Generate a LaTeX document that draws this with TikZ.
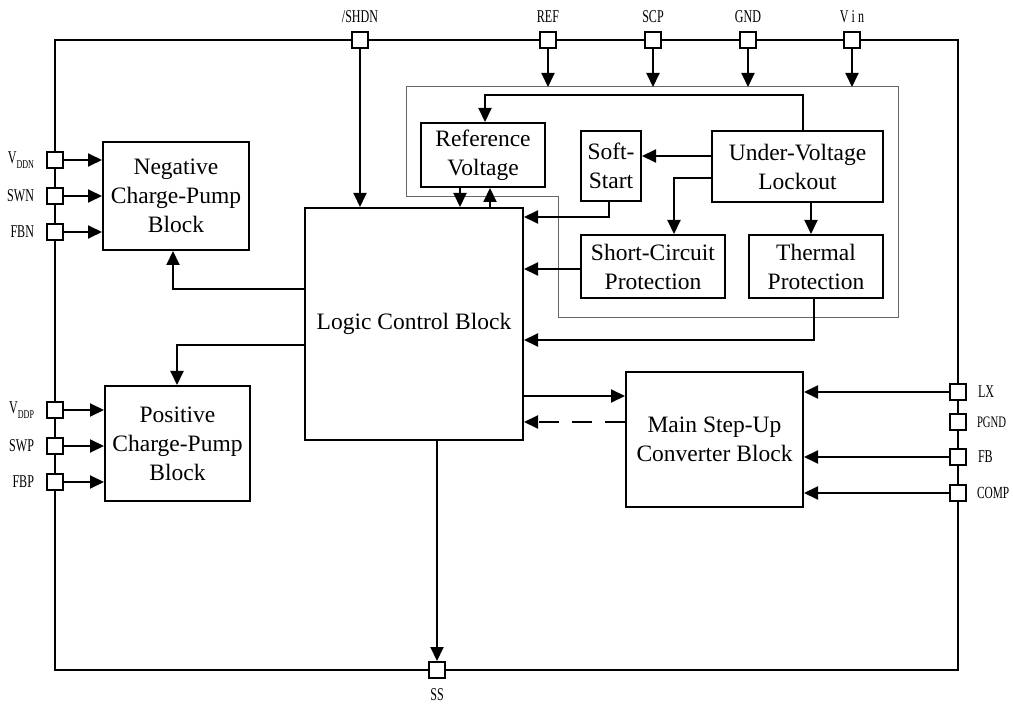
\documentclass[tikz,border=0pt]{standalone}
\usepackage{fontspec}
\setmainfont{Liberation Serif}
\newfontfamily\pinfont[FakeStretch=0.67]{Liberation Serif}
\usetikzlibrary{arrows.meta}
\begin{document}
\begin{tikzpicture}[x=1pt,y=-1pt,
 line width=2pt,
 blk/.style={draw, line width=2pt, inner sep=0pt, font=\fontsize{23.5}{29}\selectfont, align=center},
 pin/.style={draw, fill=white, line width=2pt, minimum size=16pt, inner sep=0pt},
 lbl/.style={font=\pinfont\fontsize{18}{18}\selectfont, inner sep=0pt},
 arr/.style={-{Triangle[length=14pt,width=13pt]}, line width=2pt},
 grayline/.style={draw=black!60, line width=1pt},
]
\useasboundingbox (0,0) rectangle (1013,708);
% outer frame
\draw (55,40) rectangle (958,670);
% inner gray region
\coordinate (g1) at (406,87);
\coordinate (g2) at (898,87);
\coordinate (g3) at (898,318);
\coordinate (g4) at (558,318);
\coordinate (g5) at (558,197);
\coordinate (g6) at (406,197);
\draw[grayline] (g1) -- (g2) -- (g3) -- (g4) -- (g5) -- (g6) -- cycle;
% blocks
\node[blk, minimum width=146pt, minimum height=108pt] (neg) at (176,196) {Negative\\Charge-Pump\\Block};
\node[blk, minimum width=145pt, minimum height=115pt] (pos) at (177.5,443.5) {Positive\\Charge-Pump\\Block};
\node[blk, minimum width=218pt, minimum height=232pt] (logic) at (414,324) {Logic Control Block};
\node[blk, minimum width=177pt, minimum height=135pt] (main) at (714.5,439.5) {Main Step-Up\\Converter Block};
\node[blk, minimum width=124pt, minimum height=64pt] (refv) at (483,155) {Reference\\Voltage};
\node[blk, minimum width=60pt, minimum height=70pt] (soft) at (611,166) {Soft-\\Start};
\node[blk, minimum width=171pt, minimum height=71pt] (uvlo) at (797.5,166.5) {Under-Voltage\\Lockout};
\node[blk, minimum width=144pt, minimum height=63pt] (short) at (653,266.5) {Short-Circuit\\Protection};
\node[blk, minimum width=134pt, minimum height=63pt] (therm) at (816,266.5) {Thermal\\Protection};
% pins
\node[pin] (shdn) at (360,40) {};
\node[pin] (refp) at (548,40) {};
\node[pin] (scp) at (653,40) {};
\node[pin] (gnd) at (748,40) {};
\node[pin] (vin) at (852,40) {};
\node[pin] (vddn) at (55,160) {};
\node[pin] (swn) at (55,196) {};
\node[pin] (fbn) at (55,232) {};
\node[pin] (vddp) at (55,410) {};
\node[pin] (swp) at (55,446) {};
\node[pin] (fbp) at (55,482) {};
\node[pin] (lx) at (958,392) {};
\node[pin] (pgnd) at (958,422) {};
\node[pin] (fb) at (958,457) {};
\node[pin] (comp) at (958,493) {};
\node[pin] (ss) at (437,670) {};
% pin labels
\node[lbl, anchor=south] (lshdn) at ([yshift=7pt]shdn.north) {/SHDN};
\node[lbl, anchor=south] (lref) at ([yshift=7pt]refp.north) {REF};
\node[lbl, anchor=south] (lscp) at ([yshift=7pt]scp.north) {SCP};
\node[lbl, anchor=south] (lgnd) at ([yshift=7pt]gnd.north) {GND};
\node[lbl, anchor=south] (lvin) at ([yshift=7pt]vin.north) {V\,i\,n};
\node[lbl, anchor=east] (lvddn) at ([xshift=-11pt]vddn.west) {V\raisebox{-5pt}{\fontsize{12}{12}\selectfont DDN}};
\node[lbl, anchor=east] (lswn) at ([xshift=-11pt]swn.west) {SWN};
\node[lbl, anchor=east] (lfbn) at ([xshift=-11pt]fbn.west) {FBN};
\node[lbl, anchor=east] (lvddp) at ([xshift=-11pt]vddp.west) {V\raisebox{-5pt}{\fontsize{12}{12}\selectfont DDP}};
\node[lbl, anchor=east] (lswp) at ([xshift=-11pt]swp.west) {SWP};
\node[lbl, anchor=east] (lfbp) at ([xshift=-11pt]fbp.west) {FBP};
\node[lbl, anchor=west] (llx) at ([xshift=10pt]lx.east) {LX};
\node[lbl, anchor=west, font=\pinfont\fontsize{16}{16}\selectfont] (lpgnd) at ([xshift=9pt]pgnd.east) {PGND};
\node[lbl, anchor=west] (lfb) at ([xshift=10pt]fb.east) {FB};
\node[lbl, anchor=west, font=\pinfont\fontsize{17}{17}\selectfont] (lcomp) at ([xshift=9pt]comp.east) {COMP};
\node[lbl, anchor=north] (lss) at ([yshift=-9pt]ss.south) {SS};
% top pin arrows
\draw[arr] (shdn) -- (shdn |- logic.north);
\draw[arr] (refp) -- (refp |- g1);
\draw[arr] (scp) -- (scp |- g1);
\draw[arr] (gnd) -- (gnd |- g1);
\draw[arr] (vin) -- (vin |- g1);
% left pins
\draw[arr] (vddn) -- (vddn -| neg.west);
\draw[arr] (swn) -- (swn -| neg.west);
\draw[arr] (fbn) -- (fbn -| neg.west);
\draw[arr] (vddp) -- (vddp -| pos.west);
\draw[arr] (swp) -- (swp -| pos.west);
\draw[arr] (fbp) -- (fbp -| pos.west);
% right pins
\draw[arr] (lx) -- (lx -| main.east);
\draw[arr] (fb) -- (fb -| main.east);
\draw[arr] (comp) -- (comp -| main.east);
% SS
\draw[arr] (logic.south -| ss) -- (ss);
% logic to charge pumps
\coordinate (jn) at (173,289);
\coordinate (jp) at (177,345);
\draw[arr] (logic.west |- jn) -- (jn) -- (jn |- neg.south);
\draw[arr] (logic.west |- jp) -- (jp) -- (jp |- pos.north);
% logic <-> main
\coordinate (jm1) at (0,396);
\coordinate (jm2) at (0,422);
\draw[arr] (logic.east |- jm1) -- (main.west |- jm1);
\draw[arr, dash pattern=on 20pt off 13pt] (main.west |- jm2) -- (logic.east |- jm2);
% inner connections
\coordinate (u1) at (803,95);
\coordinate (r0) at (485,95);
\draw[arr] (uvlo.north -| u1) -- (u1) -- (r0) -- (r0 |- refv.north);
\coordinate (u2) at (0,156);
\draw[arr] (uvlo.west |- u2) -- (soft.east |- u2);
\coordinate (u3) at (674,178);
\draw[arr] (uvlo.west |- u3) -- (u3) -- (u3 |- short.north);
\coordinate (u4) at (811,0);
\draw[arr] (uvlo.south -| u4) -- (u4 |- therm.north);
\coordinate (r1) at (460,0);
\coordinate (r2) at (490,0);
\draw[arr] (refv.south -| r1) -- (r1 |- logic.north);
\draw[arr] (logic.north -| r2) -- (r2 |- refv.south);
\coordinate (s1) at (609,217);
\draw[arr] (soft.south -| s1) -- (s1) -- (s1 -| logic.east);
\coordinate (s2) at (0,269);
\draw[arr] (short.west |- s2) -- (s2 -| logic.east);
\coordinate (t1) at (814,340);
\draw[arr] (therm.south -| t1) -- (t1) -- (t1 -| logic.east);
\end{tikzpicture}
\end{document}
